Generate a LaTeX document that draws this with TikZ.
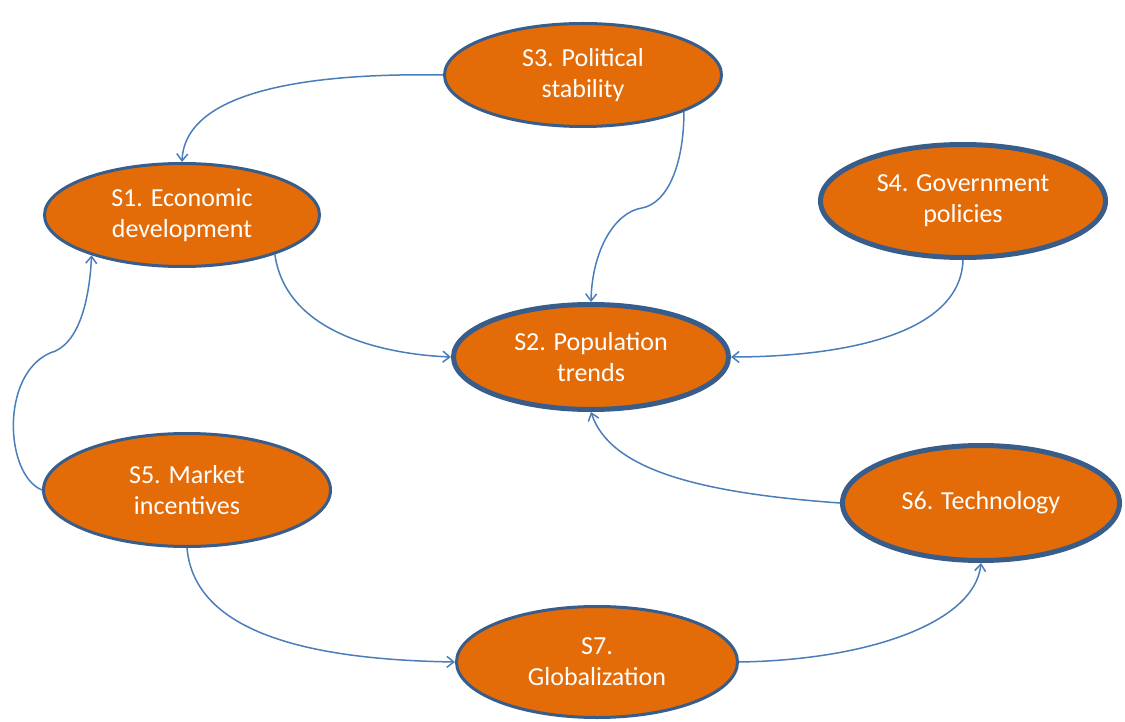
\documentclass[tikz,border=0pt]{standalone}
\usepackage{fontspec}
\setmainfont{Carlito}
\usetikzlibrary{shapes.geometric,arrows.meta}
\definecolor{fillor}{HTML}{E36C09}
\definecolor{bord}{HTML}{385D8A}
\definecolor{connblue}{HTML}{4A7EBB}
\begin{document}
\begin{tikzpicture}[x=1pt,y=-1pt,
 ell/.style={ellipse, draw=bord, fill=fillor, line width=3pt, inner sep=0pt, text=white, align=center, font=\fontsize{26}{31}\selectfont},
 thickell/.style={ell, line width=5pt},
 link/.style={draw=connblue, line width=1.5pt, -{Straight Barb[length=7pt,width=11pt]}}]
\path[fill=white,use as bounding box] (0,0) rectangle (1125,722);
\node[ell, minimum width=277pt, minimum height=103pt] (S3) at (583,75) {S3. Political\\stability};
\node[ell, minimum width=275pt, minimum height=103pt] (S1) at (182,215) {S1. Economic\\development};
\node[thickell, minimum width=285pt, minimum height=113pt] (S4) at (963,201) {S4. Government\\policies};
\node[thickell, minimum width=275pt, minimum height=105pt] (S2) at (591,357) {S2. Population\\trends};
\node[ell, minimum width=287pt, minimum height=113pt] (S5) at (187,490) {S5. Market\\incentives};
\node[thickell, minimum width=277pt, minimum height=115pt] (S6) at (981,503) {S6. Technology};
\node[ell, minimum width=281pt, minimum height=111pt] (S7) at (597,662) {S7.\\Globalization};
\coordinate (k1) at (642,208);
\coordinate (k2) at (50,353);
\draw[link] (S3.west) .. controls +(-113,-2) and +(3,-77) .. (S1.north);
\draw[link] (S3.-20) .. controls +(0,52) and +(26,-5) .. (k1) .. controls +(-27,4) and +(1,-52) .. (S2.north);
\draw[link] (S1.-23) .. controls +(12,85) and +(-52,-2) .. (S2.west);
\draw[link] (S4.south) .. controls +(-3,88) and +(68,0) .. (S2.east);
\draw[link] (S6.west) .. controls +(-140,-10) and +(19,58) .. (S2.south);
\draw[link] (S5.west) .. controls +(-37,-15) and +(-50,22) .. (k2) .. controls +(30,-8) and +(-2,42) .. (S1.204);
\draw[link] (S5.south) .. controls +(8,92) and +(-125,-2) .. (S7.west);
\draw[link] (S7.east) .. controls +(131,-2) and +(-6,59) .. (S6.south);
\end{tikzpicture}
\end{document}
